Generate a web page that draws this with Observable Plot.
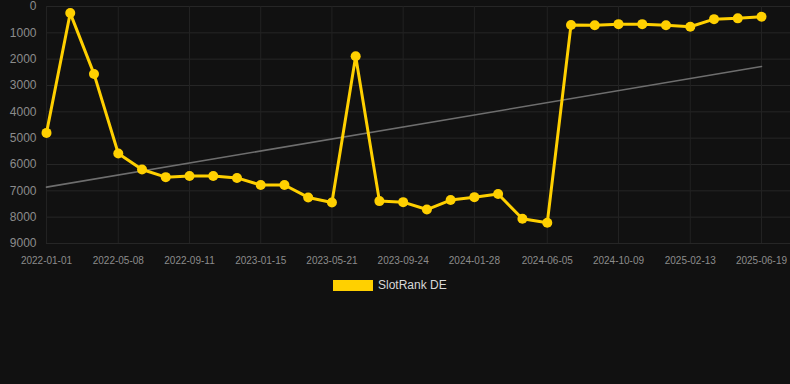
<!DOCTYPE html>
<html><head><meta charset="utf-8">
<script src="https://cdn.jsdelivr.net/npm/d3@7"></script>
<script src="https://cdn.jsdelivr.net/npm/@observablehq/plot@0.6"></script>
<style>
html,body{margin:0;padding:0;background:#111111;width:790px;height:384px;overflow:hidden;font-family:"Liberation Sans",Arial,sans-serif;}
#legend{display:flex;align-items:center;height:14px;margin-top:8px;padding-left:333px;}
#legend .sw{width:40px;height:11px;background:#FFD000;margin-right:5px;}
#legend .lb{font-size:12px;color:#d8d8d8;}
</style></head><body><div id="chart"></div><script>
const dates = ["2022-01-01","2022-02-12","2022-03-26","2022-05-08","2022-06-19","2022-07-31","2022-09-11","2022-10-23","2022-12-04","2023-01-15","2023-02-26","2023-04-09","2023-05-21","2023-07-02","2023-08-13","2023-09-24","2023-11-05","2023-12-17","2024-01-28","2024-03-10","2024-04-22","2024-06-05","2024-07-17","2024-08-28","2024-10-09","2024-11-20","2025-01-01","2025-02-13","2025-03-27","2025-05-08","2025-06-19"];
const ranks = [4800,250,2560,5580,6190,6480,6440,6440,6510,6780,6780,7250,7440,1890,7390,7430,7710,7350,7240,7120,8060,8210,700,710,670,670,710,770,480,450,390];
const xTickLabels = ["2022-01-01","2022-05-08","2022-09-11","2023-01-15","2023-05-21","2023-09-24","2024-01-28","2024-06-05","2024-10-09","2025-02-13","2025-06-19"];
const yTicks = [0,1000,2000,3000,4000,5000,6000,7000,8000,9000];
const trendDates = ["2022-01-01","2025-06-19"];
const trendValues = [6860,2280];
const seriesName = "SlotRank DE";

const parse = s => new Date(s + "T00:00:00Z");
const fmt = d3.utcFormat("%Y-%m-%d");
const data = dates.map((d,i)=>({date: parse(d), rank: ranks[i]}));
const trend = trendDates.map((d,i)=>({date: parse(d), rank: trendValues[i]}));
const xTicks = xTickLabels.map(parse);
const gold = "#FFD000";

const chart = Plot.plot({
  width: 790, height: 270,
  marginLeft: 46, marginRight: 29, marginTop: 6, marginBottom: 27,
  style: {background: "#111111", color: "#8c8c8c", fontFamily: "'Liberation Sans', Arial, sans-serif"},
  x: {type: "utc", domain: [parse(dates[0]), parse(dates[dates.length-1])]},
  y: {domain: [0, 9000], reverse: true},
  marks: [
    Plot.ruleY(yTicks, {stroke: "#262626", strokeWidth: 1, insetRight: -29}),
    Plot.ruleX(xTicks, {stroke: "#222222", strokeWidth: 1}),
    Plot.axisX(xTicks, {tickSize: 0, tickPadding: 13, tickFormat: fmt, fontSize: 10, label: null}),
    Plot.axisY(yTicks, {tickSize: 0, tickPadding: 10, tickFormat: d => String(d), fontSize: 12, label: null}),
    Plot.line(trend, {x: "date", y: "rank", stroke: "#6e6e6e", strokeWidth: 1.6}),
    Plot.line(data, {x: "date", y: "rank", stroke: gold, strokeWidth: 3}),
    Plot.dot(data, {x: "date", y: "rank", r: 5, fill: gold})
  ]
});
document.getElementById("chart").appendChild(chart);
const lg = document.createElement("div");
lg.id = "legend";
lg.innerHTML = '<div class="sw"></div><div class="lb"></div>';
lg.querySelector(".lb").textContent = seriesName;
document.getElementById("chart").appendChild(lg);
</script></body></html>
